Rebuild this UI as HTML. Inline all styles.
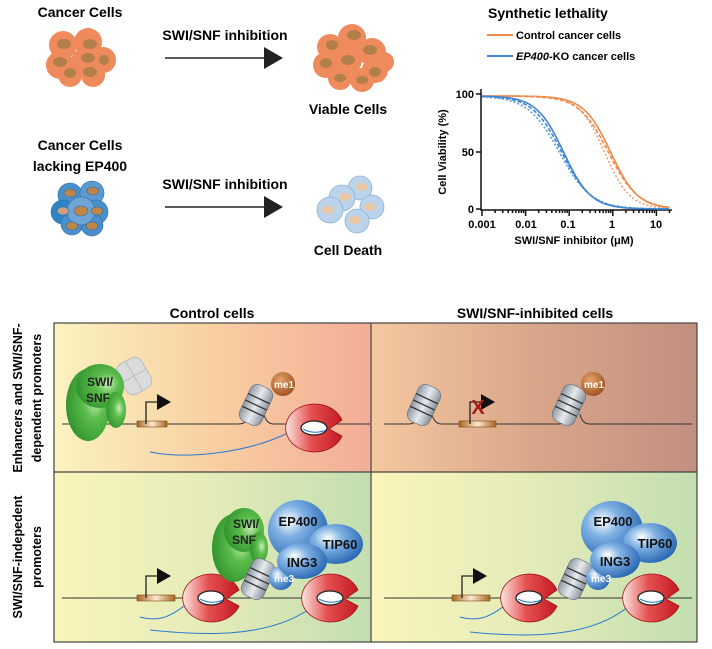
<!DOCTYPE html>
<html><head><meta charset="utf-8"><style>
html,body{margin:0;padding:0;background:#fff;}
svg{display:block;font-family:"Liberation Sans",Arial,sans-serif;}
</style></head><body>
<svg id="s" width="712" height="649" viewBox="0 0 712 649" xmlns="http://www.w3.org/2000/svg">
<defs>
<linearGradient id="gTL" x1="0" x2="1"><stop offset="0" stop-color="#fbf3c0"/><stop offset="0.5" stop-color="#f8cfa2"/><stop offset="1" stop-color="#f3ad98"/></linearGradient>
<linearGradient id="gTR" x1="0" x2="1"><stop offset="0" stop-color="#f4c8a0"/><stop offset="0.5" stop-color="#d9a68a"/><stop offset="1" stop-color="#c28f80"/></linearGradient>
<linearGradient id="gB" x1="0" x2="1"><stop offset="0" stop-color="#faf4bb"/><stop offset="0.5" stop-color="#e4ebb8"/><stop offset="1" stop-color="#c2deb0"/></linearGradient>
<radialGradient id="gGreen" cx="0.65" cy="0.45" r="0.7"><stop offset="0" stop-color="#c8ecb8"/><stop offset="0.35" stop-color="#5cbd4c"/><stop offset="1" stop-color="#2d8f2a"/></radialGradient>
<radialGradient id="gBlue" cx="0.35" cy="0.35" r="0.75"><stop offset="0" stop-color="#ffffff"/><stop offset="0.35" stop-color="#7fb1e3"/><stop offset="1" stop-color="#1f5fae"/></radialGradient>
<radialGradient id="gBrown" cx="0.4" cy="0.35" r="0.7"><stop offset="0" stop-color="#e6a36c"/><stop offset="1" stop-color="#9a4f1c"/></radialGradient>
<linearGradient id="gRed" x1="0" x2="1"><stop offset="0" stop-color="#fce6e0"/><stop offset="0.45" stop-color="#e55050"/><stop offset="1" stop-color="#c41a22"/></linearGradient>
<linearGradient id="gGray" x1="0" x2="1"><stop offset="0" stop-color="#8f9aa5"/><stop offset="0.5" stop-color="#e6eaee"/><stop offset="1" stop-color="#8a949e"/></linearGradient>
<linearGradient id="gProm" x1="0" x2="1"><stop offset="0" stop-color="#a8661e"/><stop offset="0.5" stop-color="#fbe8d0"/><stop offset="1" stop-color="#a8661e"/></linearGradient>
<g id="pol">
<path d="M27,-8 A29,24 0 1 0 27,8 L14,1 Z" fill="url(#gRed)" stroke="#a01218" stroke-width="0.8"/>
<ellipse cx="-1" cy="0" rx="13" ry="7" fill="#fff" stroke="#222" stroke-width="1.3"/>
<path d="M-12,1 Q-1,7 11,2" stroke="#2a7bd0" fill="none" stroke-width="1"/>
</g>
<g id="nuc">
<rect x="-12" y="-20" width="24" height="40" rx="8" fill="url(#gGray)" stroke="#6e7882" stroke-width="0.8"/>
<path d="M-12,-7 H12 M-12,0 H12 M-12,7 H12" stroke="#333" stroke-width="1.3"/>
</g>
<g id="arrow">
<path d="M0,0 V-22 H12" fill="none" stroke="#222" stroke-width="1.3"/>
<path d="M11,-30 L25,-22 L11,-14Z" fill="#111"/>
</g>
</defs>

<!-- Top left cells -->
<text x="80" y="17" font-size="14" font-weight="bold" text-anchor="middle">Cancer Cells</text>
<g>
<circle cx="63" cy="45" r="14" fill="#ee8a5c"/><circle cx="88" cy="42" r="14" fill="#ee8a5c"/><circle cx="103" cy="60" r="13" fill="#ee8a5c"/><circle cx="60" cy="65" r="14" fill="#ee8a5c"/><circle cx="85" cy="62" r="14" fill="#ee8a5c"/><circle cx="70" cy="75" r="12" fill="#ee8a5c"/><circle cx="93" cy="75" r="12" fill="#ee8a5c"/>
<ellipse cx="64" cy="44" rx="7" ry="5" fill="#b27f4a"/><ellipse cx="90" cy="44" rx="7" ry="5" fill="#b27f4a"/><ellipse cx="60" cy="62" rx="7" ry="5" fill="#b27f4a"/><ellipse cx="88" cy="58" rx="7" ry="5" fill="#b27f4a"/><ellipse cx="70" cy="73" rx="6" ry="5" fill="#b27f4a"/><ellipse cx="90" cy="72" rx="7" ry="5" fill="#b27f4a"/><ellipse cx="104" cy="60" rx="5" ry="5" fill="#b27f4a"/>
</g>
<text x="225" y="40" font-size="14" font-weight="bold" text-anchor="middle">SWI/SNF inhibition</text>
<line x1="165" y1="58" x2="268" y2="58" stroke="#222" stroke-width="1.5"/><path d="M264,47 L283,58 L264,69Z" fill="#222"/>
<g>
<circle cx="330" cy="47" r="13" fill="#ee8a5c"/><circle cx="352" cy="38" r="14" fill="#ee8a5c"/><circle cx="372" cy="52" r="14" fill="#ee8a5c"/><circle cx="326" cy="65" r="13" fill="#ee8a5c"/><circle cx="348" cy="60" r="14" fill="#ee8a5c"/><circle cx="375" cy="70" r="13" fill="#ee8a5c"/><circle cx="340" cy="78" r="12" fill="#ee8a5c"/><circle cx="362" cy="80" r="12" fill="#ee8a5c"/><circle cx="384" cy="62" r="10" fill="#ee8a5c"/>
<ellipse cx="332" cy="45" rx="6" ry="5" fill="#b27f4a"/><ellipse cx="354" cy="35" rx="7" ry="5" fill="#b27f4a"/><ellipse cx="370" cy="50" rx="7" ry="5" fill="#b27f4a"/><ellipse cx="326" cy="63" rx="6" ry="5" fill="#b27f4a"/><ellipse cx="348" cy="60" rx="7" ry="5" fill="#b27f4a"/><ellipse cx="375" cy="72" rx="6" ry="5" fill="#b27f4a"/><ellipse cx="340" cy="78" rx="6" ry="4" fill="#b27f4a"/><ellipse cx="362" cy="80" rx="6" ry="4" fill="#b27f4a"/>
</g>
<text x="348" y="114" font-size="14" font-weight="bold" text-anchor="middle">Viable Cells</text>

<!-- Bottom cells -->
<text x="80" y="150" font-size="14" font-weight="bold" text-anchor="middle">Cancer Cells</text>
<text x="80" y="171" font-size="14" font-weight="bold" text-anchor="middle">lacking EP400</text>
<g stroke="#2b6fa8" stroke-width="0.6">
<circle cx="70" cy="195" r="12" fill="#4a8fcb"/><circle cx="92" cy="193" r="12" fill="#5b9ad0"/><circle cx="63" cy="212" r="12" fill="#2c84c4"/><circle cx="96" cy="212" r="12" fill="#4a8fcb"/><circle cx="72" cy="224" r="11" fill="#4a8fcb"/><circle cx="92" cy="225" r="11" fill="#4a8fcb"/><circle cx="81" cy="211" r="14" fill="#6ea4d6"/>
<ellipse cx="70" cy="193" rx="6" ry="4" fill="#bf8447"/><ellipse cx="93" cy="191" rx="6" ry="4" fill="#bf8447"/><ellipse cx="63" cy="211" rx="6" ry="4" fill="#c9a086"/><ellipse cx="97" cy="211" rx="6" ry="4" fill="#bf8447"/><ellipse cx="81" cy="211" rx="7" ry="5" fill="#bf8447"/><ellipse cx="72" cy="226" rx="6" ry="4" fill="#bf8447"/><ellipse cx="92" cy="226" rx="6" ry="4" fill="#bf8447"/>
</g>
<text x="225" y="189" font-size="14" font-weight="bold" text-anchor="middle">SWI/SNF inhibition</text>
<line x1="165" y1="207" x2="268" y2="207" stroke="#222" stroke-width="1.5"/><path d="M264,196 L283,207 L264,218Z" fill="#222"/>
<g stroke="#8fb0d4" stroke-width="0.8" fill="#bcd3ec">
<circle cx="360" cy="188" r="12"/><circle cx="342" cy="198" r="13"/><circle cx="372" cy="207" r="12"/><circle cx="330" cy="210" r="13"/><circle cx="357" cy="221" r="12"/>
</g>
<g fill="#e7c7a4"><ellipse cx="362" cy="187" rx="6" ry="4"/><ellipse cx="345" cy="197" rx="6" ry="4"/><ellipse cx="370" cy="207" rx="6" ry="4"/><ellipse cx="328" cy="210" rx="6" ry="4"/><ellipse cx="355" cy="220" rx="6" ry="4"/></g>
<text x="348" y="255" font-size="14" font-weight="bold" text-anchor="middle">Cell Death</text>

<!-- Graph -->
<text x="488" y="18" font-size="14" font-weight="bold">Synthetic lethality</text>
<line x1="487" y1="35" x2="513" y2="35" stroke="#ef8a4c" stroke-width="2"/>
<text x="516" y="39" font-size="11" font-weight="bold">Control cancer cells</text>
<line x1="487" y1="56" x2="513" y2="56" stroke="#3f86cf" stroke-width="2"/>
<text x="516" y="60" font-size="11" font-weight="bold"><tspan font-style="italic">EP400</tspan>-KO cancer cells</text>
<g stroke="#111" stroke-width="1.5" fill="none">
<path d="M481,89 V210 H672"/>
<path d="M476,94 H481 M476,152 H481 M476,209 H481"/>
<path id="xt" d=""/>
</g>
<g font-size="11" font-weight="bold" text-anchor="end">
<text x="474" y="98">100</text><text x="474" y="156">50</text><text x="474" y="213">0</text></g>
<g font-size="11" font-weight="bold" text-anchor="middle">
<text x="482" y="228">0.001</text><text x="526" y="228">0.01</text><text x="568" y="228">0.1</text><text x="612" y="228">1</text><text x="656" y="228">10</text>
<text x="574" y="244">SWI/SNF inhibitor (μM)</text></g>
<text transform="translate(446,152) rotate(-90)" font-size="11" font-weight="bold" text-anchor="middle">Cell Viability (%)</text>
<g id="curves" fill="none" stroke-width="1.6"></g>

<!-- Bottom panel -->
<text x="212" y="318" font-size="14" font-weight="bold" text-anchor="middle">Control cells</text>
<text x="535" y="318" font-size="14" font-weight="bold" text-anchor="middle">SWI/SNF-inhibited cells</text>
<g font-size="12.5" font-weight="bold" text-anchor="middle">
<text transform="translate(22,398) rotate(-90)">Enhancers and SWI/SNF-</text>
<text transform="translate(41,398) rotate(-90)">dependent promoters</text>
<text transform="translate(22,557) rotate(-90)">SWI/SNF-indepedent</text>
<text transform="translate(41,557) rotate(-90)">promoters</text>
</g>
<rect x="54" y="323" width="317" height="149" fill="url(#gTL)"/>
<rect x="371" y="323" width="326" height="149" fill="url(#gTR)"/>
<rect x="54" y="472" width="317" height="170" fill="url(#gB)"/>
<rect x="371" y="472" width="326" height="170" fill="url(#gB)"/>
<g stroke="#444" stroke-width="1.2" fill="none">
<rect x="54" y="323" width="643" height="319"/><line x1="371" y1="323" x2="371" y2="642"/><line x1="54" y1="472" x2="697" y2="472"/></g>

<!-- Top-left cell content -->
<path d="M62,424 H238 Q248,424 250,414 M264,414 Q266,424 274,424 H370" stroke="#333" fill="none" stroke-width="1"/>
<g transform="translate(134,376) rotate(-30)"><rect x="-14" y="-17" width="28" height="34" rx="8" fill="#d9dbdc" stroke="#bbb"/><path d="M-14,0 H14 M0,-17 V17" stroke="#bbb"/></g>
<ellipse cx="88" cy="405" rx="22" ry="36" fill="url(#gGreen)"/>
<ellipse cx="100" cy="386" rx="24" ry="22" fill="url(#gGreen)"/>
<ellipse cx="116" cy="410" rx="10" ry="18" fill="url(#gGreen)"/>
<text x="100" y="386" font-size="12" font-weight="bold" text-anchor="middle" fill="#222">SWI/</text>
<text x="98" y="402" font-size="12" font-weight="bold" text-anchor="middle" fill="#222">SNF</text>
<rect x="137" y="421" width="30" height="6" fill="url(#gProm)" stroke="#7a4a14" stroke-width="0.6"/>
<use href="#arrow" x="146" y="424"/>
<g transform="translate(256,405) rotate(25)"><use href="#nuc"/></g>
<circle cx="283" cy="384" r="12" fill="url(#gBrown)"/><text x="284" y="388" font-size="10" font-weight="bold" fill="#fff" text-anchor="middle">me1</text>
<path d="M150,452 C190,460 250,452 290,432" stroke="#2a7bd0" fill="none" stroke-width="1"/>
<use href="#pol" x="315" y="428"/>

<!-- Top-right -->
<path d="M384,424 H408 Q418,424 418,414 M432,414 Q434,424 442,424 H558 Q566,424 568,414 M580,414 Q582,424 590,424 H692" stroke="#333" fill="none" stroke-width="1"/>
<g transform="translate(424,405) rotate(25)"><use href="#nuc"/></g>
<rect x="459" y="421" width="37" height="6" fill="url(#gProm)" stroke="#7a4a14" stroke-width="0.6"/>
<use href="#arrow" x="470" y="424"/>
<text x="478" y="414" font-size="20" font-weight="bold" fill="#a51d1d" text-anchor="middle">X</text>
<g transform="translate(569,405) rotate(25)"><use href="#nuc"/></g>
<circle cx="593" cy="384" r="12" fill="url(#gBrown)"/><text x="594" y="388" font-size="10" font-weight="bold" fill="#fff" text-anchor="middle">me1</text>

<!-- Bottom-left -->
<path d="M62,598 H370" stroke="#333" fill="none" stroke-width="1"/>
<path d="M140,617 C170,625 180,605 195,600 M150,630 C200,635 270,640 315,605" stroke="#2a7bd0" fill="none" stroke-width="1"/>
<rect x="137" y="595" width="38" height="6" fill="url(#gProm)" stroke="#7a4a14" stroke-width="0.6"/>
<use href="#arrow" x="146" y="598"/>
<use href="#pol" x="212" y="598"/>
<use href="#pol" x="331" y="598"/>
<ellipse cx="234" cy="548" rx="22" ry="34" fill="url(#gGreen)"/>
<ellipse cx="244" cy="530" rx="20" ry="22" fill="url(#gGreen)"/>
<ellipse cx="259" cy="548" rx="9" ry="16" fill="url(#gGreen)"/>
<text x="246" y="528" font-size="12" font-weight="bold" text-anchor="middle" fill="#222">SWI/</text>
<text x="244" y="544" font-size="12" font-weight="bold" text-anchor="middle" fill="#222">SNF</text>
<g transform="translate(258,579) rotate(25)"><use href="#nuc"/></g>
<circle cx="281" cy="578" r="12" fill="url(#gBlue)"/>
<ellipse cx="298" cy="530" rx="30" ry="30" fill="url(#gBlue)"/>
<ellipse cx="336" cy="544" rx="27" ry="20" fill="url(#gBlue)"/>
<ellipse cx="302" cy="561" rx="25" ry="18" fill="url(#gBlue)"/>
<text x="284" y="582" font-size="10" font-weight="bold" fill="#fff" text-anchor="middle">me3</text>
<text x="298" y="526" font-size="13" font-weight="bold" text-anchor="middle" fill="#111">EP400</text>
<text x="340" y="549" font-size="13" font-weight="bold" text-anchor="middle" fill="#111">TIP60</text>
<text x="302" y="567" font-size="13" font-weight="bold" text-anchor="middle" fill="#111">ING3</text>

<!-- Bottom-right -->
<path d="M384,598 H692" stroke="#333" fill="none" stroke-width="1"/>
<path d="M460,617 C490,625 500,605 515,600 M470,632 C520,637 590,640 630,605" stroke="#2a7bd0" fill="none" stroke-width="1"/>
<rect x="452" y="595" width="38" height="6" fill="url(#gProm)" stroke="#7a4a14" stroke-width="0.6"/>
<use href="#arrow" x="462" y="598"/>
<use href="#pol" x="530" y="598"/>
<use href="#pol" x="652" y="598"/>
<g transform="translate(575,579) rotate(25)"><use href="#nuc"/></g>
<circle cx="598" cy="578" r="12" fill="url(#gBlue)"/>
<ellipse cx="612" cy="530" rx="31" ry="29" fill="url(#gBlue)"/>
<ellipse cx="650" cy="543" rx="27" ry="20" fill="url(#gBlue)"/>
<ellipse cx="615" cy="560" rx="25" ry="18" fill="url(#gBlue)"/>
<text x="601" y="582" font-size="10" font-weight="bold" fill="#fff" text-anchor="middle">me3</text>
<text x="613" y="526" font-size="13" font-weight="bold" text-anchor="middle" fill="#111">EP400</text>
<text x="655" y="548" font-size="13" font-weight="bold" text-anchor="middle" fill="#111">TIP60</text>
<text x="615" y="566" font-size="13" font-weight="bold" text-anchor="middle" fill="#111">ING3</text>
</svg>
<script>
(function(){
var ns="http://www.w3.org/2000/svg";
var g=document.getElementById("curves");
function X(c){return 482+Math.log10(c/0.001)*43.6;}
function curve(ic,h,color,dash){
 var d="";
 for(var i=0;i<=60;i++){var lc=-3+i*(4.3/60);var c=Math.pow(10,lc);
  var y=209-113/(1+Math.pow(c/ic,h));d+=(i?"L":"M")+X(c).toFixed(1)+","+y.toFixed(1);}
 var p=document.createElementNS(ns,"path");p.setAttribute("d",d);p.setAttribute("stroke",color);
 if(dash)p.setAttribute("stroke-dasharray",dash);g.appendChild(p);
}
curve(0.9,1.4,"#ef8a4c");curve(0.65,1.5,"#f3a070","2,2");curve(0.8,1.3,"#ef8a4c","4,2");
curve(0.075,1.4,"#3f86cf");curve(0.06,1.2,"#5a9bd8","2,2");curve(0.068,1.3,"#3f86cf","4,2");
var t=document.getElementById("xt");var d="";
for(var e=-3;e<=1;e++){for(var k=1;k<10;k++){var c=k*Math.pow(10,e);if(c>20)break;var x=X(c);d+="M"+x.toFixed(1)+",210 V"+(k==1?216:213);}}
t.setAttribute("d",d);
})();
</script>
</body></html>
